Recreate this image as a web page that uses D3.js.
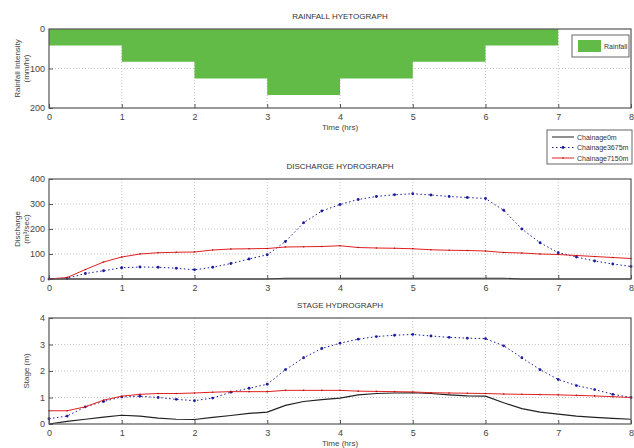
<!DOCTYPE html>
<meta charset="utf-8">
<script src="https://d3js.org/d3.v7.min.js"></script>
<style>
body { margin: 0; background: #fff; }
svg { font-family: "Liberation Sans Narrow", "Arial Narrow", "Liberation Sans", sans-serif; }
.tick text { fill: #444; font-size: 9px; }
.title { font-size: 8px; fill: #333; }
.lab { font-size: 8px; fill: #444; }
.leg { font-size: 7px; fill: #333; }
</style>
<svg id="chart" width="634" height="448"></svg>
<script>
// rainfall, one value per hour block (0-1, 1-2 ... 6-7)
const rainHours = [0, 1, 2, 3, 4, 5, 6];
const rainIntensity = [42, 83, 125, 167, 125, 83, 42];

// hydrograph time steps (hrs)
const timeHrs = [0, 0.25, 0.5, 0.75, 1, 1.25, 1.5, 1.75, 2, 2.25, 2.5, 2.75, 3, 3.25, 3.5, 3.75, 4,
  4.25, 4.5, 4.75, 5, 5.25, 5.5, 5.75, 6, 6.25, 6.5, 6.75, 7, 7.25, 7.5, 7.75, 8];

// discharge (m3/sec)
const q0 = [0, 0, 0, 0, 0, 0, 0, 0, 0, 0, 0, 0, 0, 3, 3, 3, 3,
  3, 3, 3, 3, 3, 3, 3, 3, 3, 0, 0, 0, 0, 0, 0, 0];
const q3675 = [0, 3, 22, 33, 45, 48, 47, 43, 37, 47, 62, 80, 97, 150, 225, 272, 298,
  318, 330, 337, 341, 336, 330, 326, 322, 275, 200, 145, 105, 88, 72, 60, 50];
const q7150 = [0, 6, 38, 68, 88, 100, 105, 107, 108, 116, 120, 121, 122, 128, 129, 130, 133,
  126, 124, 123, 121, 117, 115, 114, 112, 106, 104, 100, 98, 94, 90, 86, 82];

// stage (m)
const h0 = [0, 0.1, 0.18, 0.26, 0.33, 0.3, 0.22, 0.18, 0.17, 0.25, 0.32, 0.4, 0.45, 0.7, 0.85, 0.92, 0.98,
  1.1, 1.15, 1.17, 1.18, 1.15, 1.1, 1.06, 1.05, 0.8, 0.58, 0.45, 0.37, 0.3, 0.25, 0.21, 0.18];
const h3675 = [0.2, 0.3, 0.65, 0.85, 1.02, 1.05, 1.0, 0.93, 0.88, 0.98, 1.2, 1.35, 1.5, 2.05, 2.5, 2.85, 3.05,
  3.2, 3.3, 3.35, 3.38, 3.32, 3.27, 3.24, 3.22, 2.95, 2.5, 2.05, 1.68, 1.45, 1.3, 1.12, 1.0];
const h7150 = [0.5, 0.5, 0.65, 0.9, 1.05, 1.12, 1.15, 1.15, 1.17, 1.2, 1.22, 1.22, 1.22, 1.27, 1.27, 1.27, 1.27,
  1.24, 1.23, 1.22, 1.21, 1.18, 1.17, 1.16, 1.15, 1.13, 1.12, 1.11, 1.1, 1.08, 1.06, 1.03, 1.0];

const seriesNames = ["Chainage0m", "Chainage3675m", "Chainage7150m"];
const seriesColors = ["#222", "#1c1c9c", "#e02020"];

const svg = d3.select("#chart");
const left = 49, right = 631;

const x = d3.scaleLinear().domain([0, 8]).range([left, right]);

function panel(top, bottom, yDomain, yTicks, title, ylabel, xlabel, reversed) {
  const y = d3.scaleLinear().domain(yDomain)
    .range(reversed ? [top, bottom] : [bottom, top]);
  const g = svg.append("g");

  // grid
  g.append("g").selectAll("line").data(d3.range(1, 8)).join("line")
    .attr("x1", d => x(d)).attr("x2", d => x(d))
    .attr("y1", top).attr("y2", bottom)
    .attr("stroke", "#aaa").attr("stroke-width", 0.7).attr("stroke-dasharray", "1,2");
  g.append("g").selectAll("line").data(yTicks.slice(1, -1)).join("line")
    .attr("x1", left).attr("x2", right)
    .attr("y1", d => y(d)).attr("y2", d => y(d))
    .attr("stroke", "#aaa").attr("stroke-width", 0.7).attr("stroke-dasharray", "1,2");

  const axX = g.append("g").attr("transform", `translate(0,${bottom})`)
    .call(d3.axisBottom(x).ticks(8).tickSizeInner(-4).tickSizeOuter(0).tickPadding(6));
  const axY = g.append("g").attr("transform", `translate(${left},0)`)
    .call(d3.axisLeft(y).tickValues(yTicks).tickFormat(d3.format("d"))
      .tickSizeInner(-4).tickSizeOuter(0).tickPadding(4));
  [axX, axY].forEach(a => {
    a.select(".domain").remove();
    a.selectAll(".tick line").attr("stroke", "#555");
  });

  g.append("text").attr("class", "title").attr("x", (left + right) / 2).attr("y", top - 10)
    .attr("text-anchor", "middle").text(title);
  if (xlabel) {
    g.append("text").attr("class", "lab").attr("x", (left + right) / 2).attr("y", bottom + 22)
      .attr("text-anchor", "middle").text(xlabel);
  }
  const yl = g.append("text").attr("class", "lab").attr("text-anchor", "middle")
    .attr("transform", `translate(${ylabel.length > 1 ? 20 : 29},${(top + bottom) / 2}) rotate(-90)`);
  ylabel.forEach((s, i) => yl.append("tspan").attr("x", 0).attr("dy", i ? 9 : 0).text(s));

  return { g, y, top, bottom };
}

function frame(p) {
  p.g.append("rect").attr("x", left).attr("y", p.top)
    .attr("width", right - left).attr("height", p.bottom - p.top)
    .attr("fill", "none").attr("stroke", "#555").attr("stroke-width", 1.2);
}

// ---- rainfall hyetograph
const p1 = panel(29, 108, [0, 200], [0, 100, 200], "RAINFALL HYETOGRAPH",
  ["Rainfall Intensity", "(mm/hr)"], "Time (hrs)", true);
const stepData = rainHours.map((h, i) => [h, rainIntensity[i]]);
stepData.push([rainHours[rainHours.length - 1] + 1, rainIntensity[rainIntensity.length - 1]]);
p1.g.append("path").datum(stepData)
  .attr("fill", "#62bb47")
  .attr("d", d3.area().curve(d3.curveStepAfter)
    .x(d => x(d[0])).y0(p1.y(0)).y1(d => p1.y(d[1])));
frame(p1);

// rainfall legend
const lg1 = svg.append("g").attr("transform", "translate(572,35)");
lg1.append("rect").attr("width", 57).attr("height", 22).attr("fill", "#fff").attr("stroke", "#666");
lg1.append("rect").attr("x", 6).attr("y", 5).attr("width", 23).attr("height", 12).attr("fill", "#62bb47");
lg1.append("text").attr("class", "leg").attr("x", 32).attr("y", 14).text("Rainfall");

// ---- hydrographs
function drawSeries(p, sets) {
  sets.forEach((vals, k) => {
    const pts = timeHrs.map((t, i) => [t, vals[i]]);
    const line = d3.line().x(d => x(d[0])).y(d => p.y(d[1]));
    p.g.append("path").datum(pts)
      .attr("fill", "none")
      .attr("stroke", seriesColors[k])
      .attr("stroke-width", k === 0 ? 1.2 : 1)
      .attr("stroke-dasharray", k === 1 ? "1.5,2.5" : null)
      .attr("d", line);
    if (k > 0) {
      p.g.append("g").selectAll("circle").data(pts).join("circle")
        .attr("cx", d => x(d[0])).attr("cy", d => p.y(d[1]))
        .attr("r", k === 1 ? 1.4 : 0.8)
        .attr("fill", k === 1 ? "#1c1c9c" : "#b01010");
    }
  });
}

const p2 = panel(179, 279, [0, 400], [0, 100, 200, 300, 400], "DISCHARGE HYDROGRAPH",
  ["Discharge", "(m\u00b3/sec)"], null, false);
drawSeries(p2, [q0, q3675, q7150]);
frame(p2);

const p3 = panel(318, 424, [0, 4], [0, 1, 2, 3, 4], "STAGE HYDROGRAPH",
  ["Stage (m)"], "Time (hrs)", false);
drawSeries(p3, [h0, h3675, h7150]);
frame(p3);

// hydrograph legend
const lg2 = svg.append("g").attr("transform", "translate(547,130)");
lg2.append("rect").attr("width", 85).attr("height", 34).attr("fill", "#fff").attr("stroke", "#666");
seriesNames.forEach((name, k) => {
  const yy = 7 + k * 10.5;
  lg2.append("line").attr("x1", 5).attr("x2", 27).attr("y1", yy).attr("y2", yy)
    .attr("stroke", seriesColors[k]).attr("stroke-width", 1)
    .attr("stroke-dasharray", k === 1 ? "1.5,2.5" : null);
  if (k > 0) lg2.append("circle").attr("cx", 16).attr("cy", yy).attr("r", k === 1 ? 1.4 : 0.8)
    .attr("fill", k === 1 ? "#1c1c9c" : "#b01010");
  lg2.append("text").attr("class", "leg").attr("x", 30).attr("y", yy + 2.5).text(name);
});
</script>
